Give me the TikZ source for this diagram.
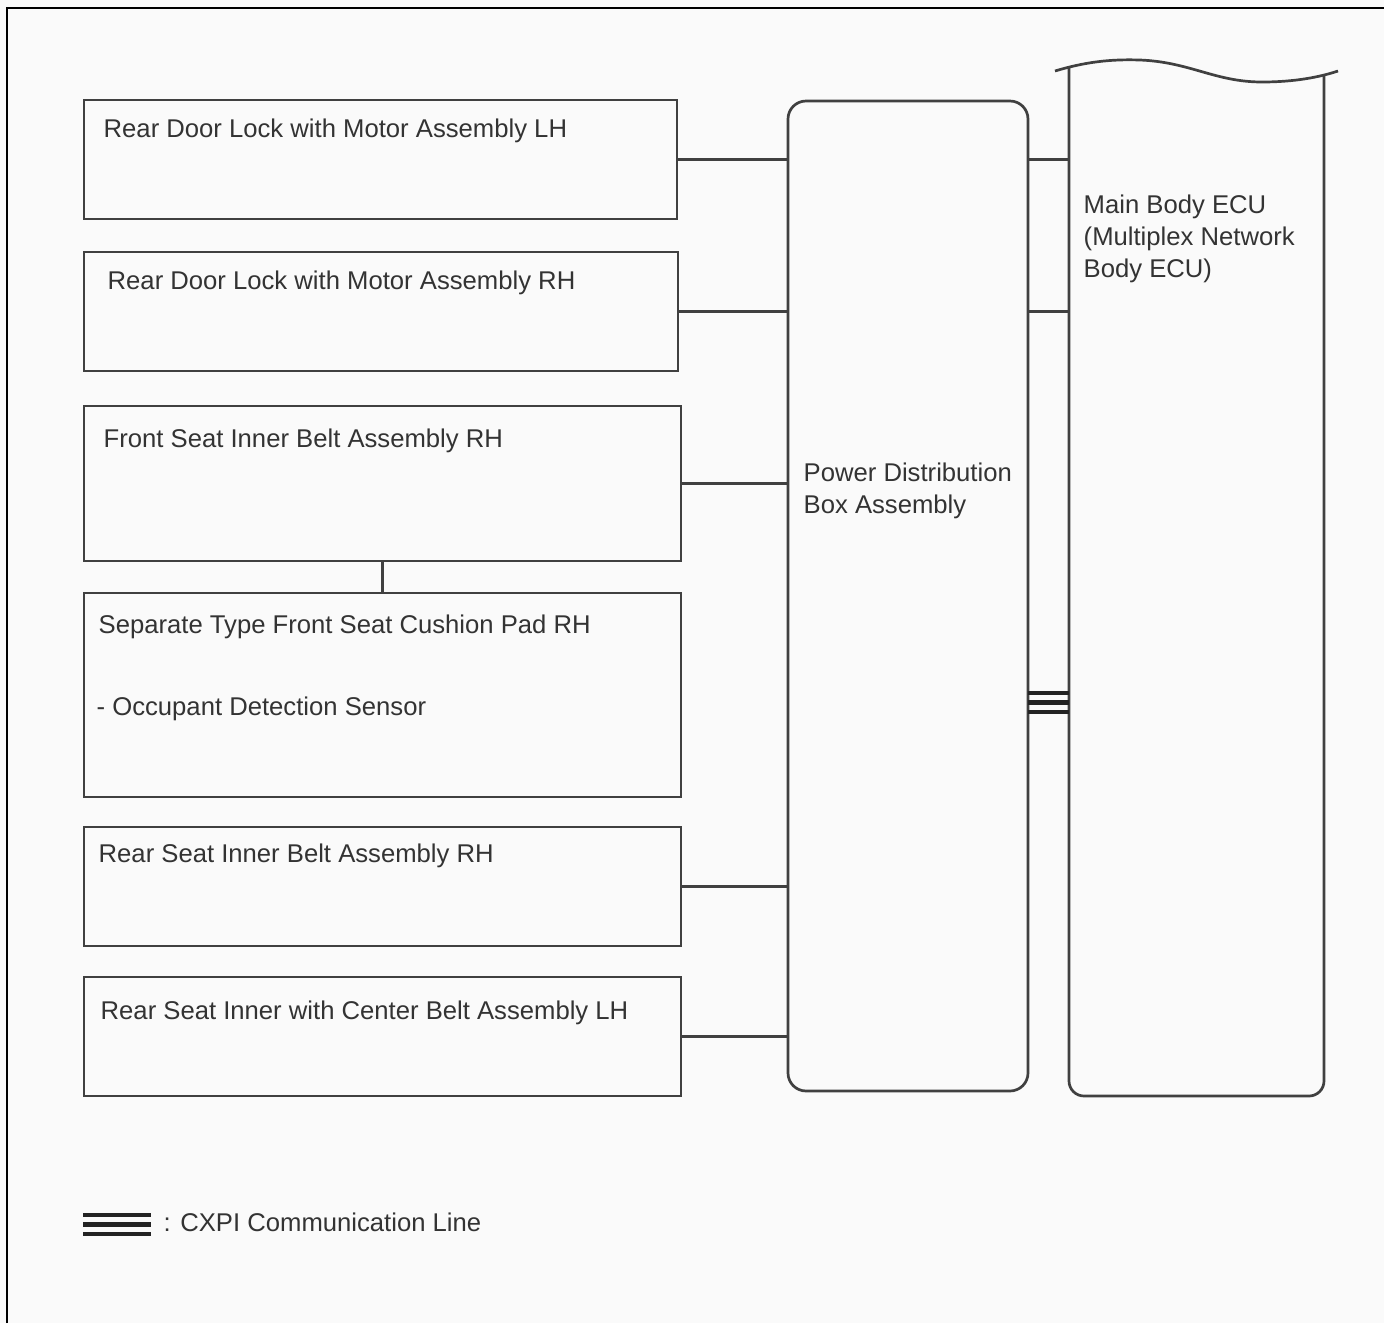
\documentclass[tikz,border=0pt]{standalone}
\usepackage{fontspec}
\setmainfont{Liberation Sans}
\usetikzlibrary{positioning}
\usetikzlibrary{calc}
\definecolor{linegray}{RGB}{64,64,64}
\definecolor{textgray}{RGB}{51,51,51}
\definecolor{darkline}{RGB}{35,35,35}
\definecolor{paper}{RGB}{250,250,250}
\tikzset{part/.style={draw=linegray,line width=0.27mm,rectangle,inner sep=0pt,outer sep=0pt,anchor=north west}}
\tikzset{lbl/.style={text=textgray,anchor=base west,inner sep=0pt,font=\fontsize{7.3pt}{9.1pt}\selectfont}}
\tikzset{wire/.style={linegray,line width=0.25mm}}
\tikzset{cxpi/.style={darkline,line width=0.42mm}}

\begin{document}
\begin{tikzpicture}[x=0.1mm,y=-0.1mm]
        \fill[paper] (0,0) rectangle (1384,1323);
        \useasboundingbox (0,0) rectangle (1384,1323);
        \draw[black,line width=0.2mm] (7,1323) -- (7,8) -- (1384,8);
        % component boxes
        \node[part,minimum width=59.3mm,minimum height=11.9mm] (rdlh) at (84,100) {};
        \node[part,minimum width=59.4mm,minimum height=11.9mm] (rdrh) at (84,252) {};
        \node[part,minimum width=59.7mm,minimum height=15.5mm] (fsib) at (84,406) {};
        \node[part,minimum width=59.7mm,minimum height=20.4mm] (cush) at (84,593) {};
        \node[part,minimum width=59.7mm,minimum height=11.9mm] (rsib) at (84,827) {};
        \node[part,minimum width=59.7mm,minimum height=11.9mm] (rscb) at (84,977) {};
        \node[part,rounded corners=1.8mm,minimum width=24mm,minimum height=99mm] (pdb) at (788,101) {};
        \node[lbl] (t1) at (103,137) {Rear Door Lock with Motor Assembly LH};
        \node[lbl] (t2) at (107,289) {Rear Door Lock with Motor Assembly RH};
        \node[lbl] (t3) at (103,447) {Front Seat Inner Belt Assembly RH};
        \node[lbl] (t4) at (98,633) {Separate Type Front Seat Cushion Pad RH};
        \node[lbl] (t5) at (96,715) {- Occupant Detection Sensor};
        \node[lbl] (t6) at (98,862) {Rear Seat Inner Belt Assembly RH};
        \node[lbl] (t7) at (100,1019) {Rear Seat Inner with Center Belt Assembly LH};
        \node[lbl,align=left,anchor=north west] (tpdb) at (803,462) {Power Distribution\\Box Assembly};
        % main body ecu, cut off at the top
        \draw[part] (1055,71) .. controls (1085,62) and (1110,59) .. (1140,60)
          .. controls (1190,62) and (1215,82) .. (1262,82)
          .. controls (1295,82) and (1320,77) .. (1338,71);
        \draw[part,rounded corners=1.5mm] (1069,66) -- (1069,1096) -- (1324,1096) -- (1324,76);
        \coordinate (ecu) at (1069,584);
        \node[lbl,align=left,anchor=north west] (tecu) at (1083,194) {Main Body ECU\\(Multiplex Network\\Body ECU)};
        % wiring
        \draw[wire] (rdlh.east) -- (rdlh.east -| pdb.west);
        \draw[wire] (rdrh.east) -- (rdrh.east -| pdb.west);
        \draw[wire] (fsib.east) -- (fsib.east -| pdb.west);
        \draw[wire] (rsib.east) -- (rsib.east -| pdb.west);
        \draw[wire] (rscb.east) -- (rscb.east -| pdb.west);
        \draw[wire] (fsib.south) -- (cush.north);
        \draw[wire] (rdlh.east -| pdb.east) -- (rdlh.east -| ecu);
        \draw[wire] (rdrh.east -| pdb.east) -- (rdrh.east -| ecu);
        \foreach \y in {693,702.5,712}
          \draw[cxpi] (pdb.east |- 0,\y) -- (ecu |- 0,\y);
        % legend
        \coordinate (legend) at (83,1224.5);
        \foreach \dy in {-9.5,0,9.5}
          \draw[cxpi] ($(legend)+(0,\dy)$) -- ($(legend)+(68,\dy)$);
        \node[lbl] (tlegend) at (163,1231) {: CXPI Communication Line};
      \end{tikzpicture}
\end{document}
